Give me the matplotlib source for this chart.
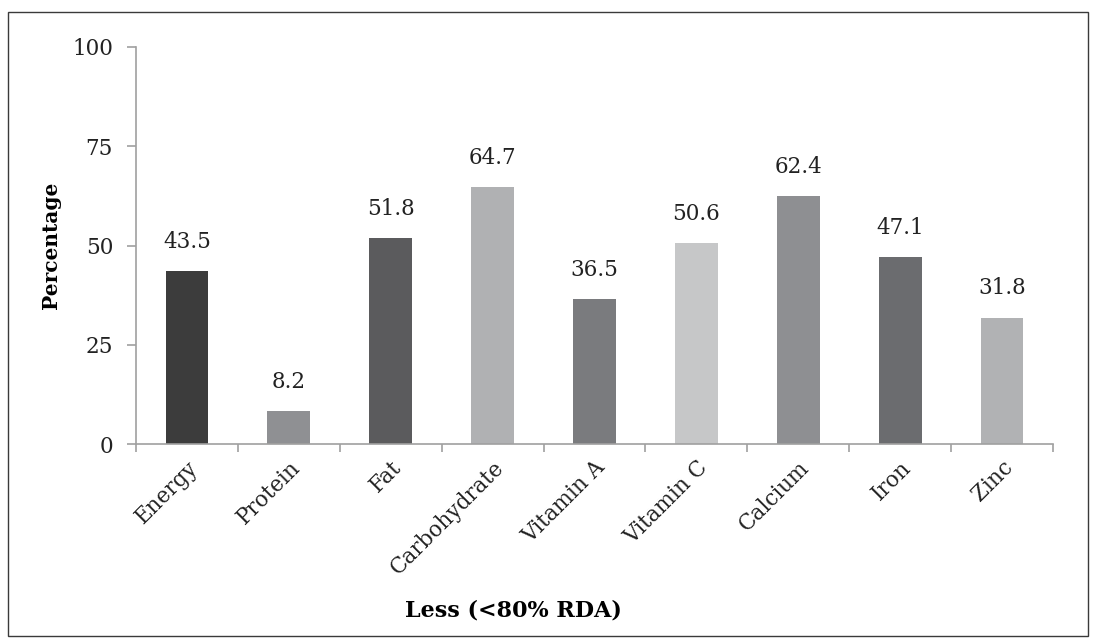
import matplotlib
matplotlib.use("Agg")
import matplotlib.pyplot as plt
from matplotlib.patches import Rectangle

nutrients = ["Energy", "Protein", "Fat", "Carbohydrate", "Vitamin A",
             "Vitamin C", "Calcium", "Iron", "Zinc"]
percentages = [43.5, 8.2, 51.8, 64.7, 36.5, 50.6, 62.4, 47.1, 31.8]
bar_colors = ["#3c3c3c", "#8f9093", "#5b5b5d", "#b0b1b3", "#7a7b7e",
              "#c6c7c8", "#8e8f92", "#6b6c6f", "#b1b2b4"]
y_ticks = [0, 25, 50, 75, 100]

plt.rcParams["font.family"] = ["DejaVu Serif"]

fig = plt.figure(figsize=(10.95, 6.41), dpi=100)
ax = fig.add_axes([0.1242, 0.3073, 0.8374, 0.6194])

x = list(range(len(nutrients)))
bars = ax.bar(x, percentages, width=0.42, color=bar_colors, zorder=2)
for xi, v in zip(x, percentages):
    ax.text(xi, v + 4.6, f"{v:.1f}", ha="center", va="bottom",
            fontsize=15.5, color="#222222")

ax.set_xlim(-0.5, len(nutrients) - 0.5)
ax.set_ylim(0, 100)
ax.set_yticks(y_ticks)
ax.set_yticklabels([str(t) for t in y_ticks], fontsize=15.5, color="#222222")

ax.set_xticks(x)
ax.set_xticklabels(nutrients, rotation=45, ha="right", rotation_mode="anchor",
                   fontsize=15.5, color="#222222")
ax.tick_params(axis="x", length=0, pad=9)
# category boundary ticks on the x axis
ax.set_xticks([i - 0.5 for i in range(len(nutrients) + 1)], minor=True)
ax.tick_params(axis="x", which="minor", length=6, color="#a0a0a0", width=1.2)
ax.tick_params(axis="y", length=6.5, color="#a0a0a0", width=1.2, pad=10)

for side in ("top", "right"):
    ax.spines[side].set_visible(False)
for side in ("left", "bottom"):
    ax.spines[side].set_color("#a0a0a0")
    ax.spines[side].set_linewidth(1.2)

ax.set_ylabel("Percentage", fontsize=14.5, fontweight="bold", labelpad=8)
fig.text(0.469, 0.048, "Less (<80% RDA)", ha="center", va="center",
         fontsize=16, fontweight="bold")

fig.patches.append(Rectangle((8 / 1095, 5 / 641), 1080 / 1095, 624 / 641,
                             transform=fig.transFigure, fill=False,
                             edgecolor="#3a3a3a", linewidth=1.0))

fig.savefig("out.png", dpi=100, facecolor="white")
